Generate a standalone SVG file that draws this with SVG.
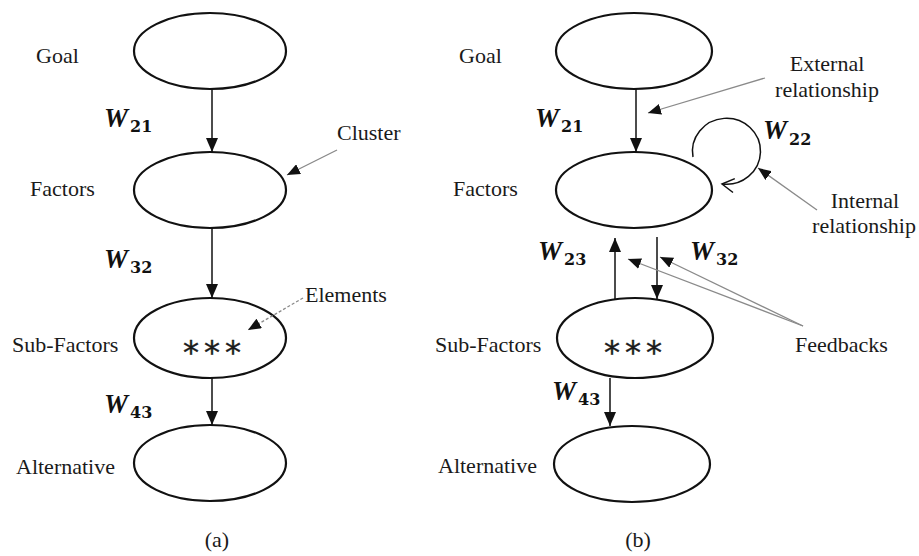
<svg xmlns="http://www.w3.org/2000/svg" width="919" height="556" viewBox="0 0 919 556">
<defs>
<style>
.lbl{font-family:"Liberation Serif","Times New Roman",serif;font-size:22px;fill:#1a1a1a}
.w{font-family:"Liberation Serif","Times New Roman",serif;font-size:27px;font-style:italic;font-weight:bold;fill:#111}
.sub{font-family:"DejaVu Serif","Liberation Serif",serif;font-size:16px;font-weight:bold;font-style:normal;fill:#111}
.ell{fill:none;stroke:#111;stroke-width:2.2}
.arr{stroke:#111;stroke-width:1.5;fill:none;marker-end:url(#ah)}
.ptr{stroke:#8a8a8a;stroke-width:1.3;fill:none;marker-end:url(#ph)}
.star{font-family:"DejaVu Sans",sans-serif;font-size:32px;fill:#1a1a1a;letter-spacing:5px;stroke:#1a1a1a;stroke-width:0.4}
</style>
<marker id="ah" markerUnits="userSpaceOnUse" markerWidth="14" markerHeight="12" refX="14" refY="6" orient="auto"><path d="M0,0 L14,6 L0,12 z" fill="#111"/></marker>
<marker id="ph" markerUnits="userSpaceOnUse" markerWidth="13" markerHeight="11" refX="13" refY="5.5" orient="auto"><path d="M0,0 L13,5.5 L0,11 z" fill="#111"/></marker>
<marker id="oh" markerUnits="userSpaceOnUse" markerWidth="16" markerHeight="16" refX="14" refY="8" orient="auto"><path d="M2,1 L14,8 L2,15" fill="none" stroke="#111" stroke-width="1.5"/></marker>
</defs>
<rect width="919" height="556" fill="#fff"/>

<!-- Panel (a) -->
<g id="a-goal"><ellipse class="ell" cx="210" cy="51" rx="76" ry="38"/><text class="lbl" x="36" y="63">Goal</text></g>
<g id="a-factors"><ellipse class="ell" cx="210" cy="190" rx="76" ry="38"/><text class="lbl" x="30" y="196">Factors</text></g>
<g id="a-subfactors"><ellipse class="ell" cx="210" cy="338" rx="76" ry="40"/><text class="lbl" x="12" y="352">Sub-Factors</text><text class="star" x="183" y="363">***</text></g>
<g id="a-alternative"><ellipse class="ell" cx="210" cy="463" rx="76" ry="38"/><text class="lbl" x="16" y="474">Alternative</text></g>
<text class="lbl" x="217" y="547" text-anchor="middle">(a)</text>

<!-- Panel (b) -->
<g id="b-goal"><ellipse class="ell" cx="634" cy="51" rx="78" ry="38"/><text class="lbl" x="459" y="63">Goal</text></g>
<g id="b-factors"><ellipse class="ell" cx="634" cy="190" rx="78" ry="38"/><text class="lbl" x="453" y="196">Factors</text></g>
<g id="b-subfactors"><ellipse class="ell" cx="635" cy="338" rx="78" ry="40"/><text class="lbl" x="435" y="352">Sub-Factors</text><text class="star" x="604" y="363">***</text></g>
<g id="b-alternative"><ellipse class="ell" cx="632" cy="464" rx="78" ry="38"/><text class="lbl" x="438" y="473">Alternative</text></g>
<text class="lbl" x="638" y="547" text-anchor="middle">(b)</text>

<g id="connectors">
<line class="arr" x1="212" y1="89" x2="212" y2="152"/>
<line class="arr" x1="212" y1="228" x2="212" y2="298"/>
<line class="arr" x1="212" y1="378" x2="212" y2="425"/>
<line class="arr" x1="636" y1="89" x2="636" y2="152"/>
<line class="arr" x1="615" y1="299" x2="615" y2="238"/>
<line class="arr" x1="657" y1="237" x2="657" y2="299"/>
<line class="arr" x1="610" y1="378" x2="610" y2="426"/>
<path d="M693,157 A34,33 0 1 1 722,184" fill="none" stroke="#111" stroke-width="1.5" marker-end="url(#oh)"/>
<line class="ptr" x1="337" y1="150" x2="287" y2="175"/>
<line class="ptr" x1="303" y1="298" x2="248" y2="330" stroke-dasharray="3,2"/>
<line class="ptr" x1="765" y1="78" x2="648" y2="113"/>
<line class="ptr" x1="817" y1="210" x2="758" y2="168"/>
<line class="ptr" x1="803" y1="326" x2="628" y2="259"/>
<line class="ptr" x1="803" y1="326" x2="660" y2="257"/>
</g>

<g id="labels">
<text class="w" x="104" y="127">W<tspan class="sub" dx="2" dy="5">21</tspan></text>
<text class="w" x="104" y="268">W<tspan class="sub" dx="2" dy="5">32</tspan></text>
<text class="w" x="104" y="413">W<tspan class="sub" dx="2" dy="5">43</tspan></text>
<text class="w" x="535" y="127">W<tspan class="sub" dx="2" dy="5">21</tspan></text>
<text class="w" x="763" y="139">W<tspan class="sub" dx="2" dy="6">22</tspan></text>
<text class="w" x="538" y="260">W<tspan class="sub" dx="2" dy="5">23</tspan></text>
<text class="w" x="690" y="260">W<tspan class="sub" dx="2" dy="5">32</tspan></text>
<text class="w" x="552" y="400">W<tspan class="sub" dx="2" dy="5">43</tspan></text>
<text class="lbl" x="337" y="140">Cluster</text>
<text class="lbl" x="305" y="302">Elements</text>
<text class="lbl" x="827" y="71" text-anchor="middle">External</text>
<text class="lbl" x="827" y="97" text-anchor="middle">relationship</text>
<text class="lbl" x="865" y="208" text-anchor="middle">Internal</text>
<text class="lbl" x="864" y="233" text-anchor="middle">relationship</text>
<text class="lbl" x="795" y="352">Feedbacks</text>
</g>
</svg>
